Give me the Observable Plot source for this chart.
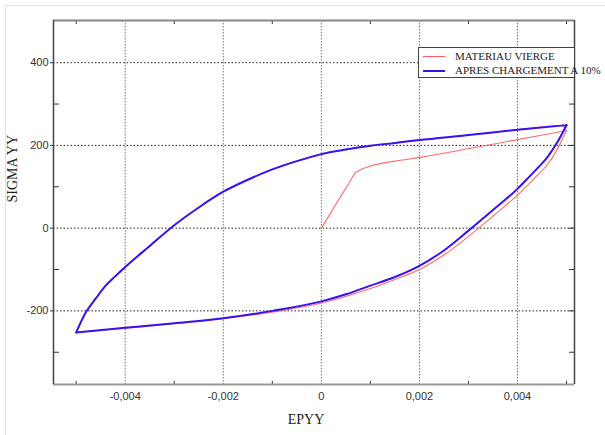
<!DOCTYPE html>
<html>
<head>
<meta charset="utf-8">
<script src="https://cdn.jsdelivr.net/npm/d3@7"></script>
<script src="https://cdn.jsdelivr.net/npm/@observablehq/plot@0.6"></script>
<style>
  html, body { margin: 0; padding: 0; background: #fff; }
  #wrap { position: relative; width: 605px; height: 435px; overflow: hidden; }
  #edge { position: absolute; left: 5px; top: 5px; width: 700px; height: 500px; border-left: 1px solid #e2e2e2; border-top: 1px solid #e2e2e2; }
  #legend { position: absolute; left: 418px; top: 47px; width: 155px; height: 29px; border: 1px solid #444; background: #fff; font-family: "Liberation Serif", "Times New Roman", serif; font-size: 11px; color: #222; white-space: nowrap; }
  .row { position: absolute; left: 4px; height: 12px; line-height: 12px; }
  .swatch { position: absolute; left: 0; top: 6px; width: 22px; }
  .lab { position: absolute; left: 32px; top: 0; }
</style>
</head>
<body>
<div id="wrap">
  <div id="edge"></div>
  <div id="chart"></div>
  <div id="legend"></div>
</div>
<script>
// ---- data ----
const seriesNames = ["MATERIAU VIERGE", "APRES CHARGEMENT A 10%"];
const seriesColors = ["#ff5c5c", "#3a10f5"];

// red: virgin material — elastic part, hardening part, then the cycle
const redElasticX = [0, 0.00069];
const redElasticY = [0, 134];
const redLoadX = [0.00069, 0.0008, 0.001, 0.0015, 0.002, 0.003, 0.004, 0.005];
const redLoadY = [134, 141, 150, 162, 171, 192, 214, 236];
const redUpperX = [-0.005, -0.0048, -0.0046, -0.0044, -0.0042, -0.004, -0.0035, -0.003, -0.0025, -0.002, -0.0015, -0.001, -0.0005, 0, 0.0005, 0.001, 0.0015, 0.002, 0.003, 0.004, 0.0049, 0.005];
const redUpperY = [-252, -203, -170, -139, -116, -94, -43, 7, 50, 88, 117, 142, 162, 179, 190, 199, 206, 213, 225, 238, 248, 236];
const redLowerX = [-0.005, -0.004, -0.003, -0.002, -0.001, 0, 0.0005, 0.001, 0.0015, 0.002, 0.0025, 0.003, 0.0035, 0.004, 0.0042, 0.0044, 0.0046, 0.0048, 0.005];
const redLowerY = [-252, -242, -231, -219, -203, -181, -165, -146, -124, -100, -65, -20, 29, 80, 103, 127, 152, 188, 236];

// blue: after 10% loading (stabilised cycle)
const blueUpperX = [-0.005, -0.0048, -0.0046, -0.0044, -0.0042, -0.004, -0.0035, -0.003, -0.0025, -0.002, -0.0015, -0.001, -0.0005, 0, 0.0005, 0.001, 0.0015, 0.002, 0.003, 0.004, 0.005];
const blueUpperY = [-252, -203, -170, -139, -116, -94, -43, 7, 50, 88, 117, 142, 162, 179, 190, 199, 206, 213, 225, 238, 249];
const blueLowerX = [-0.005, -0.004, -0.003, -0.002, -0.001, 0, 0.0005, 0.001, 0.0015, 0.002, 0.0025, 0.003, 0.0035, 0.004, 0.0042, 0.0044, 0.0046, 0.0048, 0.005];
const blueLowerY = [-252, -241, -230, -218, -200, -177, -160, -139, -118, -91, -54, -6, 44, 95, 119, 144, 170, 205, 249];

const xMajor = [-0.004, -0.002, 0, 0.002, 0.004];
const xMinor = [-0.005, -0.003, -0.001, 0.001, 0.003, 0.005];
const yMajor = [-200, 0, 200, 400];
const yMinor = [-300, -100, 100, 300];
const xDomain = [-0.005463, 0.005163];
const yDomain = [-378, 502];

const rows = (seg, xs, ys) => xs.map((x, i) => ({seg, x, y: ys[i]}));
const redElastic = rows("e", redElasticX, redElasticY);
const redCurves = [...rows("load", redLoadX, redLoadY), ...rows("up", redUpperX, redUpperY), ...rows("low", redLowerX, redLowerY)];
const blueCurves = [...rows("up", blueUpperX, blueUpperY), ...rows("low", blueLowerX, blueLowerY)];
const fmtX = d => d === 0 ? "0" : d3.format(".3f")(d).replace("−", "-").replace(".", ",");
const serif = "'Liberation Serif', 'Times New Roman', serif";

const chart = Plot.plot({
  width: 605,
  height: 435,
  marginLeft: 53,
  marginRight: 31,
  marginTop: 20,
  marginBottom: 51,
  style: {fontFamily: "'Liberation Sans', Arial, sans-serif", fontSize: "11px", color: "#333", background: "transparent"},
  x: {domain: xDomain, label: null},
  y: {domain: yDomain, label: null},
  marks: [
    Plot.ruleX(xMajor, {stroke: "#777", strokeDasharray: "1.5,1.5", strokeWidth: 1}),
    Plot.ruleY(yMajor, {stroke: "#222", strokeDasharray: "1.5,2", strokeWidth: 1}),
    Plot.axisX(xMajor, {anchor: "bottom", tickSize: 0, tickPadding: 8, tickFormat: fmtX, fill: "#333"}),
    Plot.axisY(yMajor, {anchor: "left", tickSize: 3, tickPadding: 2, tickFormat: d => String(d), fill: "#333", stroke: "#333"}),
    Plot.axisY(yMajor.concat(yMinor), {anchor: "right", tickSize: -6, tickFormat: () => "", stroke: "#333"}),
    Plot.axisY(yMinor, {anchor: "left", tickSize: -6, tickFormat: () => "", stroke: "#333"}),
    Plot.axisX(xMinor, {anchor: "top", tickSize: -3, tickFormat: () => "", stroke: "#333"}),
    Plot.axisX(xMinor, {anchor: "bottom", tickSize: -3, tickFormat: () => "", stroke: "#333"}),
    Plot.line(redElastic, {x: "x", y: "y", stroke: seriesColors[0], strokeWidth: 1.1, strokeOpacity: 0.9}),
    Plot.line(redCurves, {x: "x", y: "y", z: "seg", curve: "monotone-x", stroke: seriesColors[0], strokeWidth: 1.1, strokeOpacity: 0.9}),
    Plot.line(blueCurves, {x: "x", y: "y", z: "seg", curve: "monotone-x", stroke: seriesColors[1], strokeWidth: 2, strokeLinecap: "round"}),
    Plot.ruleY([yDomain[1]], {stroke: "#888", strokeWidth: 2}),
    Plot.ruleY([yDomain[0]], {stroke: "#999", strokeWidth: 2}),
    Plot.ruleX([xDomain[0]], {stroke: "#444", strokeWidth: 1.5}),
    Plot.ruleX([xDomain[1]], {stroke: "#444", strokeWidth: 1.5}),
    Plot.text(["SIGMA YY"], {frameAnchor: "left", dx: -41, rotate: -90, fontFamily: serif, fontSize: 14, fill: "#222"}),
    Plot.text(["EPYY"], {frameAnchor: "bottom", dy: 39, dx: -8, fontFamily: serif, fontSize: 14, fill: "#222"})
  ]
});
document.getElementById("chart").appendChild(chart);

const legend = document.getElementById("legend");
seriesNames.forEach((name, i) => {
  const row = document.createElement("div");
  row.className = "row";
  row.style.top = (2 + i * 14) + "px";
  row.innerHTML = `<div class="swatch" style="border-top:${i ? 2 : 1}px solid ${seriesColors[i]}"></div><span class="lab">${name}</span>`;
  legend.appendChild(row);
});
</script>
</body>
</html>
